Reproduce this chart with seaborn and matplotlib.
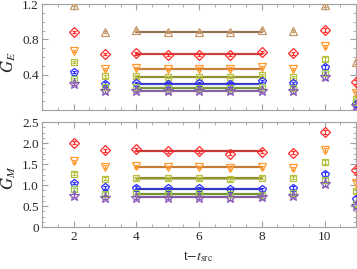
import numpy as np
import pandas as pd
import matplotlib
matplotlib.use("Agg")
import matplotlib.pyplot as plt
import seaborn as sns
from matplotlib.ticker import MultipleLocator

# ---------------- data ----------------
t_vals = [2, 3, 4, 5, 6, 7, 8, 9, 10, 11]
series_names = ["p0", "p1", "p2", "p3", "p4", "p5", "p6"]

ge_p0 = [1.19, 0.88, 0.905, 0.88, 0.885, 0.88, 0.91, 0.89, 1.19, 0.54]
ge_p1 = [0.88, 0.63, 0.64, 0.62, 0.62, 0.62, 0.66, 0.64, 0.905, 0.32]
ge_p2 = [0.67, 0.46, 0.48, 0.46, 0.47, 0.47, 0.49, 0.46, 0.72, 0.19]
ge_p3 = [0.54, 0.38, 0.38, 0.37, 0.37, 0.37, 0.40, 0.37, 0.58, 0.125]
ge_p4 = [0.43, 0.30, 0.31, 0.30, 0.31, 0.30, 0.33, 0.31, 0.49, 0.07]
ge_p5 = [0.35, 0.26, 0.26, 0.245, 0.25, 0.25, 0.26, 0.245, 0.415, 0.09]
ge_p6 = [0.29, 0.21, 0.22, 0.21, 0.22, 0.21, 0.22, 0.21, 0.37, 0.04]
ge_fit = [0.885, 0.63, 0.47, 0.37, 0.30, 0.245, 0.22]

gm_p1 = [2.01, 1.83, 1.85, 1.81, 1.81, 1.75, 1.79, 1.77, 2.26, 1.35]
gm_p2 = [1.57, 1.44, 1.45, 1.43, 1.43, 1.40, 1.42, 1.40, 1.83, 1.05]
gm_p3 = [1.27, 1.15, 1.16, 1.16, 1.16, 1.14, 1.17, 1.17, 1.55, 0.86]
gm_p4 = [1.05, 0.95, 0.94, 0.93, 0.93, 0.90, 0.90, 0.94, 1.27, 0.68]
gm_p5 = [0.90, 0.79, 0.82, 0.80, 0.80, 0.79, 0.77, 0.82, 1.13, 0.55]
gm_p6 = [0.75, 0.70, 0.70, 0.70, 0.70, 0.69, 0.71, 0.74, 1.03, 0.50]
gm_fit = [1.81, 1.43, 1.16, 0.91, 0.79, 0.71]

fit_range = [4, 8]

ge_ticks = [0.4, 0.8, 1.2]
ge_ticklabels = ["0.4", "0.8", "1.2"]
gm_ticks = [0, 0.5, 1.0, 1.5, 2.0, 2.5]
gm_ticklabels = ["0", "0.5", "1.0", "1.5", "2.0", "2.5"]
x_ticks = [2, 4, 6, 8, 10]
x_ticklabels = ["2", "4", "6", "8", "10"]

# ---------------- styles ----------------
markers = ["^", "D", "v", "s", "p", "s", "*"]
pt_colors = ["#c49868", "#ff2a2a", "#ff9a30", "#b8c040", "#3030ff", "#9cc850", "#8a5ab8"]
band_colors = ["#8a6440", "#c02828", "#c07028", "#84861c", "#2424c0", "#6a8a22", "#765096"]
msizes = [6, 5, 6, 5, 6, 5, 8]

sns.set_style("ticks")
plt.rcParams["font.family"] = ["Liberation Serif", "DejaVu Serif"]
plt.rcParams["mathtext.fontset"] = "stix"

fig = plt.figure(figsize=(3.57, 2.69), dpi=100)
ax1 = fig.add_axes([0.118, 0.591, 0.879, 0.394])
ax2 = fig.add_axes([0.118, 0.156, 0.879, 0.390])


def draw(ax, data, fits, idx_list, err_small, err_big):
    rows = []
    for k, i in enumerate(idx_list):
        for t, v in zip(t_vals, data[k]):
            rows.append({"t": t, "val": v, "s": series_names[i]})
    df = pd.DataFrame(rows)
    for k, i in enumerate(idx_list):
        sub = df[df["s"] == series_names[i]]
        err = [err_big if t >= 10 else err_small for t in sub["t"]]
        ax.errorbar(sub["t"], sub["val"], yerr=err, fmt=markers[i], mfc="none",
                    mec=pt_colors[i], ecolor=pt_colors[i], ms=msizes[i], mew=0.9,
                    elinewidth=0.8, capsize=1.5, zorder=3)
        fx = np.array(fit_range, dtype=float)
        fv = fits[k]
        ax.fill_between(fx, fv - err_small * 0.8, fv + err_small * 0.8,
                        color=band_colors[i], alpha=0.45, lw=0, zorder=2)
        fit_df = pd.DataFrame({"t": fx, "val": [fv, fv]})
        sns.lineplot(data=fit_df, x="t", y="val", ax=ax, color=band_colors[i],
                     lw=1.6, alpha=0.85, zorder=2)


draw(ax1, [ge_p0, ge_p1, ge_p2, ge_p3, ge_p4, ge_p5, ge_p6], ge_fit,
     [0, 1, 2, 3, 4, 5, 6], 0.012, 0.02)
draw(ax2, [gm_p1, gm_p2, gm_p3, gm_p4, gm_p5, gm_p6], gm_fit,
     [1, 2, 3, 4, 5, 6], 0.035, 0.05)

for ax in (ax1, ax2):
    ax.set_xlim(1, 11)
    ax.xaxis.set_major_locator(MultipleLocator(2))
    ax.xaxis.set_minor_locator(MultipleLocator(0.5))
    for sp in ax.spines.values():
        sp.set_visible(True)
        sp.set_color("#a0a0a0")
        sp.set_linewidth(0.8)
    ax.tick_params(which="both", direction="in", top=True, right=True,
                   color="#a0a0a0", labelsize=9.5, pad=2.5)
    ax.tick_params(which="major", length=4)
    ax.tick_params(which="minor", length=2)
    ax.set_xlabel("")
    ax.set_ylabel("")

ax1.set_ylim(0, 1.2)
ax1.yaxis.set_minor_locator(MultipleLocator(0.1))
ax1.set_yticks(ge_ticks)
ax1.set_yticklabels(ge_ticklabels)
ax1.tick_params(labelbottom=False)

ax2.set_ylim(0, 2.5)
ax2.yaxis.set_minor_locator(MultipleLocator(0.125))
ax2.set_yticks(gm_ticks)
ax2.set_yticklabels(gm_ticklabels)
ax2.set_xticks(x_ticks)
ax2.set_xticklabels(x_ticklabels)

fig.text(0.024, 0.77, r"$G_E$", rotation=90, ha="center", va="center", fontsize=12)
fig.text(0.024, 0.34, r"$G_M$", rotation=90, ha="center", va="center", fontsize=12)
fig.text(0.555, 0.045, r"t$-t_{\rm src}$", ha="center", va="center", fontsize=10)

fig.savefig("out.png", dpi=100)
